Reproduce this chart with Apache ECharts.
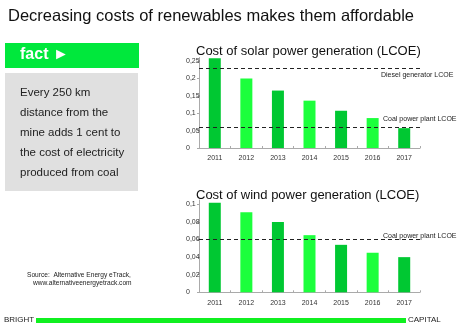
<!DOCTYPE html>
<html>
<head>
<meta charset="utf-8">
<script src="https://cdn.jsdelivr.net/npm/echarts@6/dist/echarts.min.js"></script>
<style>
html,body{margin:0;padding:0;background:#fff;}
#c{width:460px;height:328px;}
</style>
</head>
<body>
<div id="c"></div>
<script>
const years = ['2011','2012','2013','2014','2015','2016','2017'];
const solarCost = [0.258, 0.200, 0.165, 0.136, 0.107, 0.086, 0.057];
const windCost = [0.102, 0.091, 0.080, 0.065, 0.054, 0.045, 0.040];
const solarDiesel = 0.227;
const solarCoal = 0.064;
const windCoal = 0.057;
const solarTicks = {min: 0, max: 0.26, interval: 0.05};
const windTicks = {min: 0, max: 0.105, interval: 0.02};

const DARK = '#00c832', LIGHT = '#1cff3c';
const FONT = 'Liberation Sans, Arial, sans-serif';
const fmt = v => v === 0 ? '0' : String(Math.round(v * 1000) / 1000).replace('.', ',');

const chart = echarts.init(document.getElementById('c'), null, {renderer: 'canvas'});

function yAxis(gi, t) {
  return {
    type: 'value', gridIndex: gi, min: t.min, max: t.max, interval: t.interval,
    axisLine: {show: true, lineStyle: {color: '#aaa', width: 1}},
    axisTick: {show: true, length: 2, lineStyle: {color: '#aaa'}},
    splitLine: {show: false},
    axisLabel: {showMaxLabel: false, formatter: fmt, fontSize: 7, color: '#333', fontFamily: FONT, align: 'left', margin: 13}
  };
}
function xAxis(gi) {
  return {
    type: 'category', gridIndex: gi, data: years,
    axisLine: {show: true, lineStyle: {color: '#aaa', width: 1}},
    axisTick: {show: true, length: 2, inside: true, lineStyle: {color: '#aaa'}},
    axisLabel: {fontSize: 7, color: '#333', fontFamily: FONT, margin: 7}
  };
}
function dashed(y) {
  return {yAxis: y, lineStyle: {type: [4, 3], color: '#222', width: 1}, label: {show: false}};
}

chart.setOption({
  animation: false,
  title: [
    {text: 'Decreasing costs of renewables makes them affordable', left: 3, top: 3,
     textStyle: {fontSize: 16.5, fontWeight: 'normal', color: '#111', fontFamily: FONT}},
    {text: 'Cost of solar power generation (LCOE)', left: 191, top: 40,
     textStyle: {fontSize: 13, fontWeight: 'normal', color: '#111', fontFamily: FONT}},
    {text: 'Cost of wind power generation (LCOE)', left: 191, top: 184,
     textStyle: {fontSize: 13, fontWeight: 'normal', color: '#111', fontFamily: FONT}}
  ],
  grid: [
    {left: 199, top: 57.5, width: 221, height: 90.5},
    {left: 199, top: 200, width: 221, height: 92.3}
  ],
  xAxis: [xAxis(0), xAxis(1)],
  yAxis: [yAxis(0, solarTicks), yAxis(1, windTicks)],
  series: [
    {type: 'bar', xAxisIndex: 0, yAxisIndex: 0, data: solarCost, barWidth: 12,
     itemStyle: {color: p => p.dataIndex % 2 === 0 ? DARK : LIGHT},
     markLine: {symbol: 'none', silent: true, data: [dashed(solarDiesel), dashed(solarCoal)]}},
    {type: 'bar', xAxisIndex: 1, yAxisIndex: 1, data: windCost, barWidth: 12,
     itemStyle: {color: p => p.dataIndex % 2 === 0 ? DARK : LIGHT},
     markLine: {symbol: 'none', silent: true, data: [dashed(windCoal)]}}
  ],
  graphic: [
    {type: 'rect', shape: {x: 5, y: 43, width: 134, height: 25}, style: {fill: '#00e83c'}},
    {type: 'text', left: 20, top: 47, style: {text: 'fact \u25BA', fill: '#fff', font: 'bold 16px ' + FONT}},
    {type: 'rect', shape: {x: 5, y: 73, width: 133, height: 118}, style: {fill: '#e0e0e0'}},
    {type: 'text', left: 20, top: 83, style: {text: 'Every 250 km\ndistance from the\nmine adds 1 cent to\nthe cost of electricity\nproduced from coal', fill: '#222', font: '11.5px ' + FONT, lineHeight: 20}},
    {type: 'text', left: 381, top: 72, style: {text: 'Diesel generator LCOE', fill: '#222', font: '7px ' + FONT}},
    {type: 'text', left: 383, top: 116, style: {text: 'Coal power plant LCOE', fill: '#222', font: '7px ' + FONT}},
    {type: 'text', left: 383, top: 233, style: {text: 'Coal power plant LCOE', fill: '#222', font: '7px ' + FONT}},
    {type: 'text', left: 27, top: 272, style: {text: 'Source:  Alternative Energy eTrack,', fill: '#222', font: '6.6px ' + FONT}},
    {type: 'text', left: 33, top: 280, style: {text: 'www.alternativeenergyetrack.com', fill: '#222', font: '6.6px ' + FONT}},
    {type: 'text', left: 4, top: 316, style: {text: 'BRIGHT', fill: '#222', font: '8px ' + FONT}},
    {type: 'rect', shape: {x: 36, y: 318, width: 370, height: 5}, style: {fill: '#10f020'}},
    {type: 'text', left: 408, top: 316, style: {text: 'CAPITAL', fill: '#222', font: '8px ' + FONT}}
  ]
});
</script>
</body>
</html>
